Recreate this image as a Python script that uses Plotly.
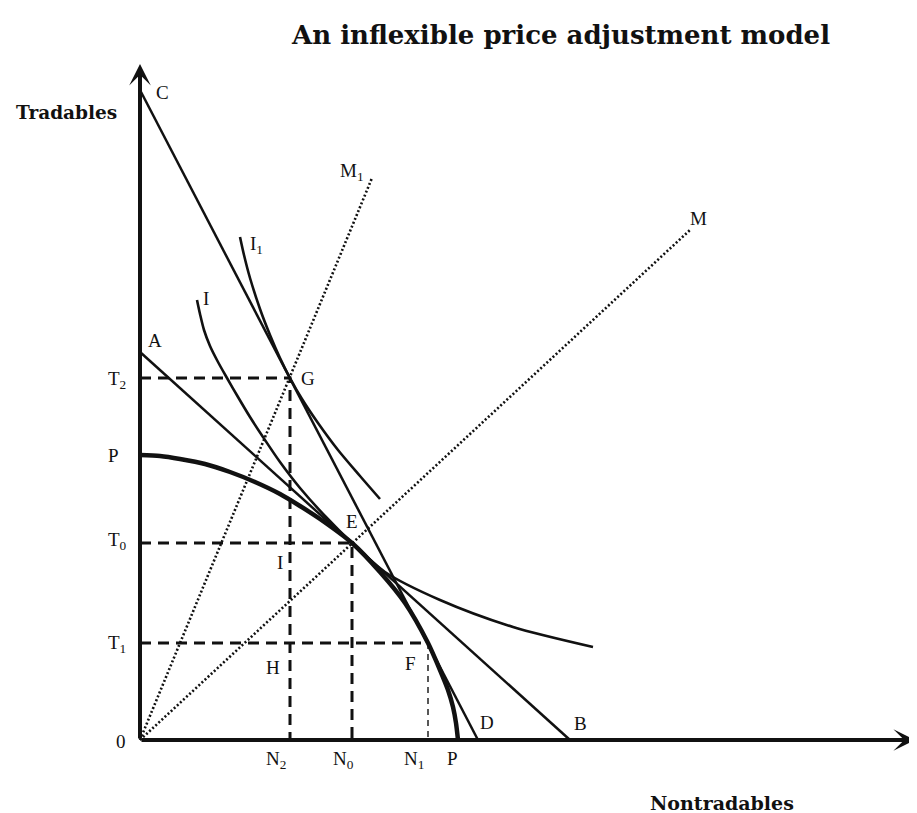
import plotly.graph_objects as go

# ---- data (diagram units: origin at 0,0) ----
# production possibility frontier P-P
pp_x = [0, 20, 40, 65, 90, 115, 140, 160, 180, 212, 240, 265, 288, 300, 308, 313, 316, 318]
pp_y = [285, 284, 281, 276, 268, 258, 246, 234, 221, 197, 168, 137, 97, 70, 50, 33, 17, 0]
# indifference curve I (through E)
i0_x = [57, 60, 64, 70, 78, 87, 98, 110, 123, 140, 160, 185, 212, 245, 300, 373, 453]
i0_y = [440, 426, 410, 394, 378, 362, 343, 323, 303, 278, 252, 224, 197, 168, 140, 113, 93]
# indifference curve I1 (through G)
i1_x = [100, 104, 110, 120, 130, 140, 150, 162, 178, 198, 220, 240]
i1_y = [503, 485, 462, 431, 405, 382, 362, 341, 317, 290, 264, 241]
# price lines
ab_x = [0, 430]
ab_y = [388, 0]
cd_x = [0, 338]
cd_y = [650, 0]
# income-expansion rays
m_x = [0, 550]
m_y = [0, 510]
m1_x = [0, 232]
m1_y = [0, 562]
# key points
G = (150, 362)
E = (212, 197)
F = (288, 97)
axis_x_end = 775
axis_y_end = 676

# labels
lab_text = ["C", "M<sub>1</sub>", "M", "I<sub>1</sub>", "I", "A", "T<sub>2</sub>", "G",
            "P", "E", "T<sub>0</sub>", "I", "T<sub>1</sub>", "H", "F", "D", "B", "0",
            "N<sub>2</sub>", "N<sub>0</sub>", "N<sub>1</sub>", "P"]
lab_x = [22, 212, 558, 116, 66, 15, -23, 168, -27, 212, -23, 140, -23, 133, 270, 347, 440, -19,
         136, 203, 274, 312]
lab_y = [648, 568, 522, 495, 442, 400, 360, 362, 285, 219, 199, 178, 96, 73, 77, 18, 17, -1,
         -20, -20, -20, -18]

title_text = "An inflexible price adjustment model"
ylabel_text = "Tradables"
xlabel_text = "Nontradables"

# ---- figure ----
fig = go.Figure()
black = "#111111"

def add_line(x, y, width, dash="solid", shape="linear", smoothing=1.0):
    fig.add_trace(go.Scatter(x=x, y=y, mode="lines",
                             line=dict(color=black, width=width, dash=dash, shape=shape,
                                       smoothing=smoothing),
                             hoverinfo="skip", showlegend=False))

# dotted rays
add_line(m_x, m_y, 2.6, dash="2px,2.2px")
add_line(m1_x, m1_y, 2.6, dash="2px,2.2px")
# dashed guides
add_line([0, G[0], G[0]], [G[1], G[1], 0], 3, dash="11px,7px")
add_line([0, E[0], E[0]], [E[1], E[1], 0], 3, dash="11px,7px")
add_line([0, F[0]], [F[1], F[1]], 3, dash="11px,7px")
add_line([F[0], F[0]], [F[1], 0], 1.4, dash="6px,5px")
# price lines
add_line(ab_x, ab_y, 2.5)
add_line(cd_x, cd_y, 2.5)
# indifference curves
add_line(i0_x, i0_y, 2.6, shape="spline", smoothing=0.8)
add_line(i1_x, i1_y, 2.6, shape="spline", smoothing=0.8)
# PPF
add_line(pp_x, pp_y, 4.5, shape="spline", smoothing=0.7)

annotations = []
# axes with arrows
annotations.append(dict(x=0, y=axis_y_end, ax=0, ay=0, xref="x", yref="y", axref="x", ayref="y",
                        showarrow=True, arrowhead=3, arrowwidth=4, arrowsize=0.9,
                        arrowcolor=black, text="", standoff=0))
annotations.append(dict(x=axis_x_end, y=0, ax=0, ay=0, xref="x", yref="y", axref="x", ayref="y",
                        showarrow=True, arrowhead=3, arrowwidth=4, arrowsize=0.9,
                        arrowcolor=black, text="", standoff=0))

lab_font = dict(family="Liberation Serif, Times New Roman, serif", size=19, color=black)
for t, x, y in zip(lab_text, lab_x, lab_y):
    annotations.append(dict(x=x, y=y, text=t, showarrow=False, font=lab_font,
                            xanchor="center", yanchor="middle"))

annotations.append(dict(x=-74, y=628, text="<b>" + ylabel_text + "</b>", showarrow=False,
                        font=dict(family="DejaVu Serif, serif", size=18.5, color=black),
                        xanchor="center", yanchor="middle"))
annotations.append(dict(x=582, y=-63, text="<b>" + xlabel_text + "</b>", showarrow=False,
                        font=dict(family="DejaVu Serif, serif", size=19, color=black),
                        xanchor="center", yanchor="middle"))
annotations.append(dict(x=420, y=705, text="<b>" + title_text + "</b>", showarrow=False,
                        font=dict(family="DejaVu Serif, serif", size=26, color=black),
                        xanchor="center", yanchor="middle"))

# page body has an 8px margin: figure spans screen pixels 8..917 x 8..813
fig.update_layout(
    width=909, height=805,
    margin=dict(l=0, r=0, t=0, b=0),
    paper_bgcolor="white", plot_bgcolor="white",
    xaxis=dict(range=[-132, 777], visible=False, fixedrange=True),
    yaxis=dict(range=[-73, 732], visible=False, fixedrange=True),
    annotations=annotations,
    showlegend=False,
)

fig.write_html("out.html")
